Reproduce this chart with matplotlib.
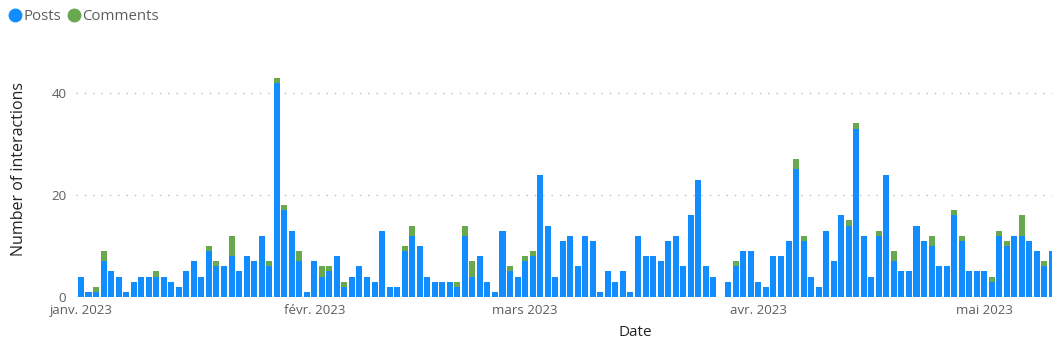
import matplotlib
matplotlib.use('Agg')
import matplotlib.pyplot as plt
import matplotlib.dates as mdates
from matplotlib.lines import Line2D
import pandas as pd

plt.rcParams['font.family'] = ['Open Sans', 'DejaVu Sans']

# daily counts from 2023-01-01 to 2023-05-10
start_date = '2023-01-01'
posts = [
    # janvier
    4, 1, 1, 7, 5, 4, 1, 3, 4, 4, 4, 4, 3, 2, 5, 7, 4, 9, 6, 6,
    8, 5, 8, 7, 12, 6, 42, 17, 13, 7, 1,
    # fevrier
    7, 4, 5, 8, 2, 4, 6, 4, 3, 13, 2, 2, 9, 12, 10, 4, 3, 3, 3, 2,
    12, 4, 8, 3, 1, 13, 5, 4,
    # mars
    7, 8, 24, 14, 4, 11, 12, 6, 12, 11, 1, 5, 3, 5, 1, 12, 8, 8, 7, 11,
    12, 6, 16, 23, 6, 4, 0, 3, 6, 9, 9,
    # avril
    3, 2, 8, 8, 11, 25, 11, 4, 2, 13, 7, 16, 14, 33, 12, 4, 12, 24, 7, 5,
    5, 14, 11, 10, 6, 6, 16, 11, 5, 5,
    # mai
    5, 3, 12, 10, 12, 12, 11, 9, 6, 9,
]
comments = [
    0, 0, 1, 2, 0, 0, 0, 0, 0, 0, 1, 0, 0, 0, 0, 0, 0, 1, 1, 0,
    4, 0, 0, 0, 0, 1, 1, 1, 0, 2, 0,
    0, 2, 1, 0, 1, 0, 0, 0, 0, 0, 0, 0, 1, 2, 0, 0, 0, 0, 0, 1,
    2, 3, 0, 0, 0, 0, 1, 0,
    1, 1, 0, 0, 0, 0, 0, 0, 0, 0, 0, 0, 0, 0, 0, 0, 0, 0, 0, 0,
    0, 0, 0, 0, 0, 0, 0, 0, 1, 0, 0,
    0, 0, 0, 0, 0, 2, 1, 0, 0, 0, 0, 0, 1, 1, 0, 0, 1, 0, 2, 0,
    0, 0, 0, 2, 0, 0, 1, 1, 0, 0,
    0, 1, 1, 1, 0, 4, 0, 0, 1, 0,
]
month_starts = ['2023-01-01', '2023-02-01', '2023-03-01', '2023-04-01', '2023-05-01']
month_labels = ['janv. 2023', 'févr. 2023', 'mars 2023', 'avr. 2023', 'mai 2023']

BLUE = '#118DFF'
GREEN = '#6AA84F'
GREY = '#605E5C'
DARK = '#252423'

dates = pd.date_range(start_date, periods=len(posts), freq='D')
x = mdates.date2num(dates)

W, H = 1052, 350
fig = plt.figure(figsize=(W / 100, H / 100), dpi=100)
ax = fig.add_axes([76 / W, 53 / H, 976 / W, 222 / H])

ax.bar(x, posts, width=0.8, color=BLUE, zorder=2)
ax.bar(x, comments, bottom=posts, width=0.8, color=GREEN, zorder=2)

ax.set_xlim(x[0] - 0.66, x[-1])
ax.set_ylim(0, 43.5)
ax.set_yticks([0, 20, 40])
ax.set_xticks(mdates.date2num(pd.to_datetime(month_starts)))
ax.set_xticklabels(month_labels)
ax.yaxis.grid(True, linestyle=(0, (1, 5)), color='#BEBEBE', linewidth=1)
ax.set_axisbelow(True)
for s in ax.spines.values():
    s.set_visible(False)
ax.tick_params(length=0, labelsize=9.5, colors=GREY)
ax.tick_params(axis='y', pad=7)
ax.tick_params(axis='x', pad=5)

fig.text(19 / W, 1 - 169 / H, 'Number of interactions', rotation=90,
         ha='center', va='center', fontsize=11.5, color=DARK)
fig.text(635 / W, 1 - 332 / H, 'Date', ha='center', va='center',
         fontsize=11, color=DARK)

handles = [
    Line2D([], [], marker='o', ls='', color=BLUE, markersize=9, label='Posts'),
    Line2D([], [], marker='o', ls='', color=GREEN, markersize=9, label='Comments'),
]
fig.legend(handles=handles, loc='upper left', bbox_to_anchor=(-0.003, 1), ncol=2,
           frameon=False, handletextpad=0.0, columnspacing=0.2,
           handlelength=1.2, fontsize=10.8, labelcolor=GREY, borderaxespad=0.2)

fig.savefig('out.png', dpi=100)
